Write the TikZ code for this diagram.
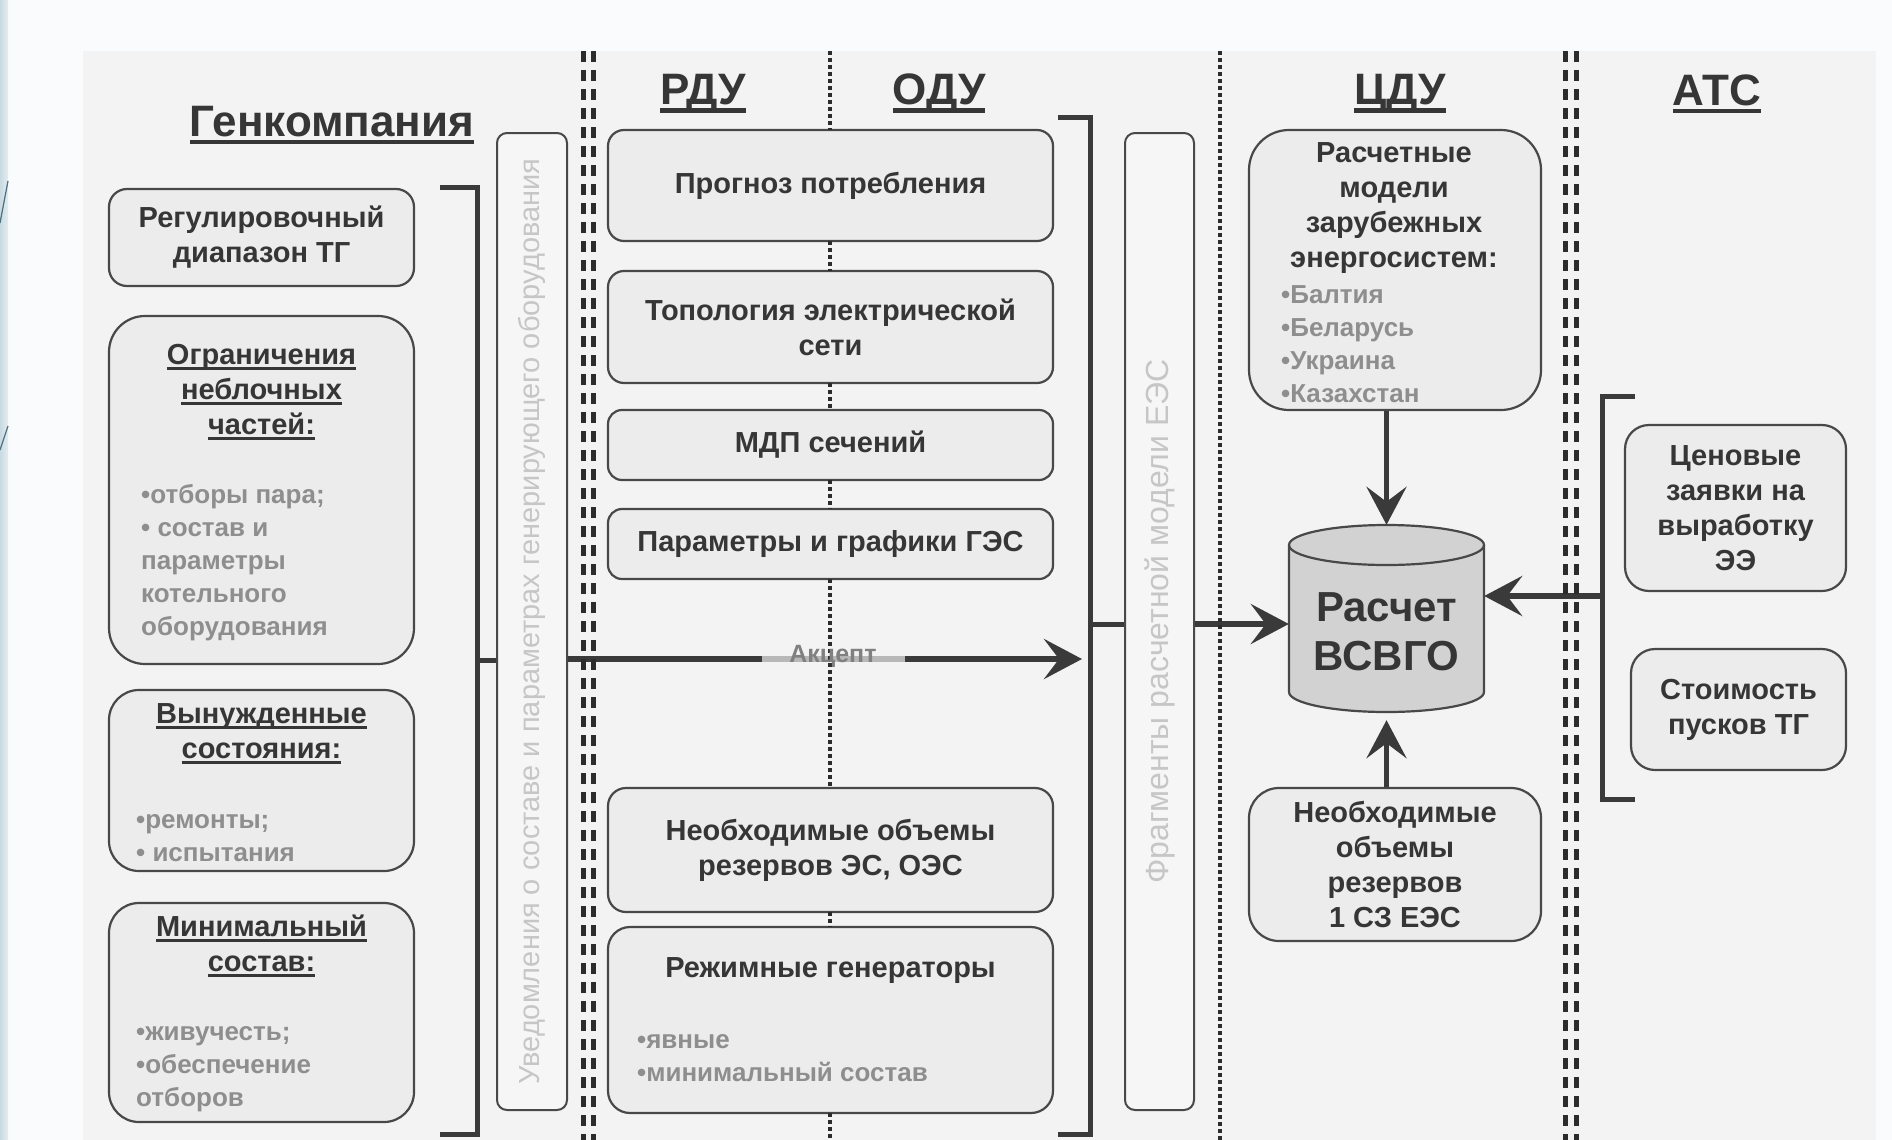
\documentclass[tikz,border=0pt]{standalone}
\usepackage{fontspec}
\setmainfont{Liberation Sans}
\usetikzlibrary{arrows.meta}

\definecolor{ink}{HTML}{363636}
\definecolor{edge}{HTML}{484848}
\definecolor{boxfill}{HTML}{ECECEC}
\definecolor{tallfill}{HTML}{F6F6F6}
\definecolor{panel}{HTML}{F3F3F3}
\definecolor{bgc}{HTML}{FAFBFC}
\definecolor{sepc}{HTML}{2C2C2C}
\definecolor{brc}{HTML}{3A3A3A}
\definecolor{listc}{HTML}{8E8E8E}
\definecolor{accc}{HTML}{808080}
\definecolor{rotc}{HTML}{C6C6C6}
\definecolor{cylfill}{HTML}{D2D2D2}
\definecolor{patchc}{HTML}{B8B8B8}
\definecolor{stripa}{HTML}{C9DAE2}
\definecolor{stripb}{HTML}{E4EDF1}
\definecolor{deco}{HTML}{4F6F80}

% fonts
\newcommand\hdr{\fontsize{29pt}{35pt}\selectfont\bfseries}
\newcommand\lsf{\fontsize{26pt}{33pt}\selectfont\bfseries}
\newcommand\ttl{\fontsize{44pt}{52pt}\selectfont\bfseries}
\newcommand\rotf{\fontsize{29pt}{35pt}\selectfont}
\newcommand\rotg{\fontsize{32pt}{38pt}\selectfont}
\newcommand\bigf{\fontsize{42pt}{49pt}\selectfont\bfseries}
\newcommand\accf{\fontsize{25pt}{30pt}\selectfont\bfseries}
% thick underlines
\newcommand\ulx[1]{\setbox0=\hbox{#1}\rlap{\rule[-5pt]{\wd0}{2.8pt}}\box0}
\newcommand\ult[1]{\setbox0=\hbox{#1}\rlap{\rule[-8pt]{\wd0}{4.5pt}}\box0}

\begin{document}
\begin{tikzpicture}[x=1pt, y=-1pt,
  box/.style={draw=edge, line width=2.2pt, fill=boxfill, inner sep=0pt,
              align=center, text=ink, font=\hdr},
  tall/.style={draw=edge, line width=2pt, fill=tallfill, inner sep=0pt,
               rounded corners=10pt},
  sep2/.style={draw=sepc, line width=5pt, dash pattern=on 11pt off 8pt},
  sep1/.style={draw=sepc, line width=3.5pt, dash pattern=on 4pt off 3pt},
  brace/.style={draw=brc, line width=5pt},
  arr/.style={draw=brc, line width=6pt,
              -{Stealth[length=38pt,width=40pt,inset=15pt]}},
  title/.style={font=\ttl, text=ink, inner sep=0pt},
  hd/.style={font=\hdr, text=ink, inner sep=0pt, align=center},
  lst/.style={font=\lsf, text=listc, align=left, inner sep=0pt, anchor=west},
  rtxt/.style={text=rotc, inner sep=0pt, rotate=90},
]
\useasboundingbox (0,0) rectangle (1892,1140);

% page and panel
\fill[bgc] (0,0) rectangle (1892,1140);
\shade[left color=stripa, right color=stripb] (0,0) rectangle (8,1140);
\draw[deco, line width=1.2pt] (0,223) -- (8,181);
\draw[deco, line width=1.2pt] (0,450) -- (8,426);
\fill[panel] (83,51) rectangle (1876,1140);

% ---------- boxes (nodes) ----------
\node[box, rounded corners=18pt, minimum width=305pt, minimum height=97pt]
  (reg) at (261.5,237.5) {Регулировочный\\диапазон ТГ};
\node[box, rounded corners=36pt, minimum width=305pt, minimum height=348pt]
  (ogr) at (261.5,490) {};
\node[box, rounded corners=30pt, minimum width=305pt, minimum height=181pt]
  (vyn) at (261.5,780.5) {};
\node[box, rounded corners=30pt, minimum width=305pt, minimum height=219pt]
  (mini) at (261.5,1012.5) {};
\node[tall, minimum width=70pt, minimum height=977pt] (notif) at (532,621.5) {};

\node[box, rounded corners=16pt, minimum width=445pt, minimum height=111pt]
  (prog) at (830.5,185.5) {Прогноз потребления};
\node[box, rounded corners=16pt, minimum width=445pt, minimum height=112pt]
  (topo) at (830.5,327) {Топология электрической\\сети};
\node[box, rounded corners=14pt, minimum width=445pt, minimum height=70pt]
  (mdp) at (830.5,445) {МДП сечений};
\node[box, rounded corners=14pt, minimum width=445pt, minimum height=70pt]
  (ges) at (830.5,544) {Параметры и графики ГЭС};
\node[box, rounded corners=18pt, minimum width=445pt, minimum height=124pt]
  (rez) at (830.5,850) {Необходимые объемы\\резервов ЭС, ОЭС};
\node[box, rounded corners=22pt, minimum width=445pt, minimum height=186pt]
  (regm) at (830.5,1020) {};
\node[tall, minimum width=69pt, minimum height=977pt] (frag) at (1159.5,621.5) {};

\node[box, rounded corners=40pt, minimum width=292pt, minimum height=280pt]
  (model) at (1395,270) {};
\node[inner sep=0pt, minimum width=195pt, minimum height=187pt]
  (vsvgo) at (1386.5,618.5) {};
\node[box, rounded corners=30pt, minimum width=292pt, minimum height=153pt]
  (rez1) at (1395,864.5) {Необходимые\\объемы\\резервов\\1 СЗ ЕЭС};

\node[box, rounded corners=24pt, minimum width=221pt, minimum height=166pt]
  (price) at (1735.5,508) {Ценовые\\заявки на\\выработку\\ЭЭ};
\node[box, rounded corners=24pt, minimum width=215pt, minimum height=121pt]
  (cost) at (1738.5,709.5) {Стоимость\\пусков ТГ};

% storage cylinder of the calculation
\fill[cylfill] (1289,545) -- (1289,692)
  arc[start angle=180, end angle=0, x radius=97.5, y radius=20] -- (1484,545) -- cycle;
\fill[cylfill] (1386.5,545) ellipse[x radius=97.5, y radius=20];
\draw[edge, line width=2.2pt] (1289,545) -- (1289,692)
  arc[start angle=180, end angle=0, x radius=97.5, y radius=20] -- (1484,545);
\draw[edge, line width=2.2pt] (1386.5,545) ellipse[x radius=97.5, y radius=20];

% ---------- brackets and connectors ----------
\coordinate (bl) at (477,660);
\coordinate (br) at (1090,624);
\coordinate (ba) at (1602,596);
\coordinate (acc) at (1082,659);

\draw[brace] (440,187) -- (477,187) -- (477,1134) -- (440,1134);
\draw[brace] (bl) -- (notif.west |- bl);
\draw[arr] (notif.east |- acc) -- (acc);
\node[fill=patchc, inner sep=0pt, minimum width=143pt, minimum height=6pt]
  (accpatch) at (833.5,659) {};

\draw[brace] (1058,117) -- (1090,117) -- (1090,1134) -- (1058,1134);
\draw[brace] (br) -- (frag.west |- br);
\draw[arr] (frag.east |- br) -- (vsvgo.west |- br);

\draw[arr, line width=5pt] (vsvgo.north |- model.south) -- (vsvgo.north);
\draw[arr, line width=5pt, shorten >=8pt] (vsvgo.south |- rez1.north) -- (vsvgo.south);

\draw[brace] (1635,396) -- (1602,396) -- (1602,799) -- (1635,799);
\draw[arr] (ba) -- (vsvgo.east |- ba);

% ---------- column separators ----------
\draw[sep2] (583,51) -- (583,1140);
\draw[sep2] (593,51) -- (593,1140);
\draw[sep1] (830,51) -- (830,130);
\draw[sep1] (830,241) -- (830,271);
\draw[sep1] (830,383) -- (830,410);
\draw[sep1] (830,480) -- (830,509);
\draw[sep1] (830,579) -- (830,788);
\draw[sep1] (830,912) -- (830,927);
\draw[sep1] (830,1113) -- (830,1140);
\draw[sep1] (1220,51) -- (1220,1140);
\draw[sep2] (1565,51) -- (1565,1140);
\draw[sep2] (1576,51) -- (1576,1140);

% ---------- titles ----------
\node[title] (tgen) at (332,125) {\ult{Генкомпания}};
\node[title] (trdu) at (703,94) {\ult{РДУ}};
\node[title] (todu) at (939,94) {\ult{ОДУ}};
\node[title] (tcdu) at (1400,94) {\ult{ЦДУ}};
\node[title] (tats) at (1717,94) {\ult{АТС}};

% ---------- texts of compound boxes ----------
\node[hd] (ogrh) at (261.5,392) {\ulx{Ограничения}\\\ulx{неблочных}\\\ulx{частей:}};
\node[lst] (ogrl) at (141,563) {•отборы пара;\\• состав и\\параметры\\котельного\\оборудования};
\node[hd] (vynh) at (261.5,734) {\ulx{Вынужденные}\\\ulx{состояния:}};
\node[lst] (vynl) at (136,838) {•ремонты;\\• испытания};
\node[hd] (minh) at (261.5,946) {\ulx{Минимальный}\\\ulx{состав:}};
\node[lst] (minl) at (136,1069) {•живучесть;\\•обеспечение\\отборов};

\node[hd] (regmh) at (830.5,971) {Режимные генераторы};
\node[lst] (regml) at (637,1058) {•явные\\•минимальный состав};

\node[hd] (modelh) at (1394,208) {Расчетные\\модели\\зарубежных\\энергосистем:};
\node[lst] (modell) at (1281,344) {•Балтия\\•Беларусь\\•Украина\\•Казахстан};

\node[font=\bigf, text=ink, align=center, inner sep=0pt] (vsvgot) at (1386.5,632) {Расчет\\ВСВГО};

\node[rtxt, font=\rotf] (notift) at (notif) {Уведомления о составе и параметрах генерирующего оборудования};
\node[rtxt, font=\rotg] (fragt) at (frag) {Фрагменты расчетной модели ЕЭС};

\node[font=\accf, text=accc, inner sep=0pt] (acct) at (833,656) {Акцепт};
\end{tikzpicture}
\end{document}
